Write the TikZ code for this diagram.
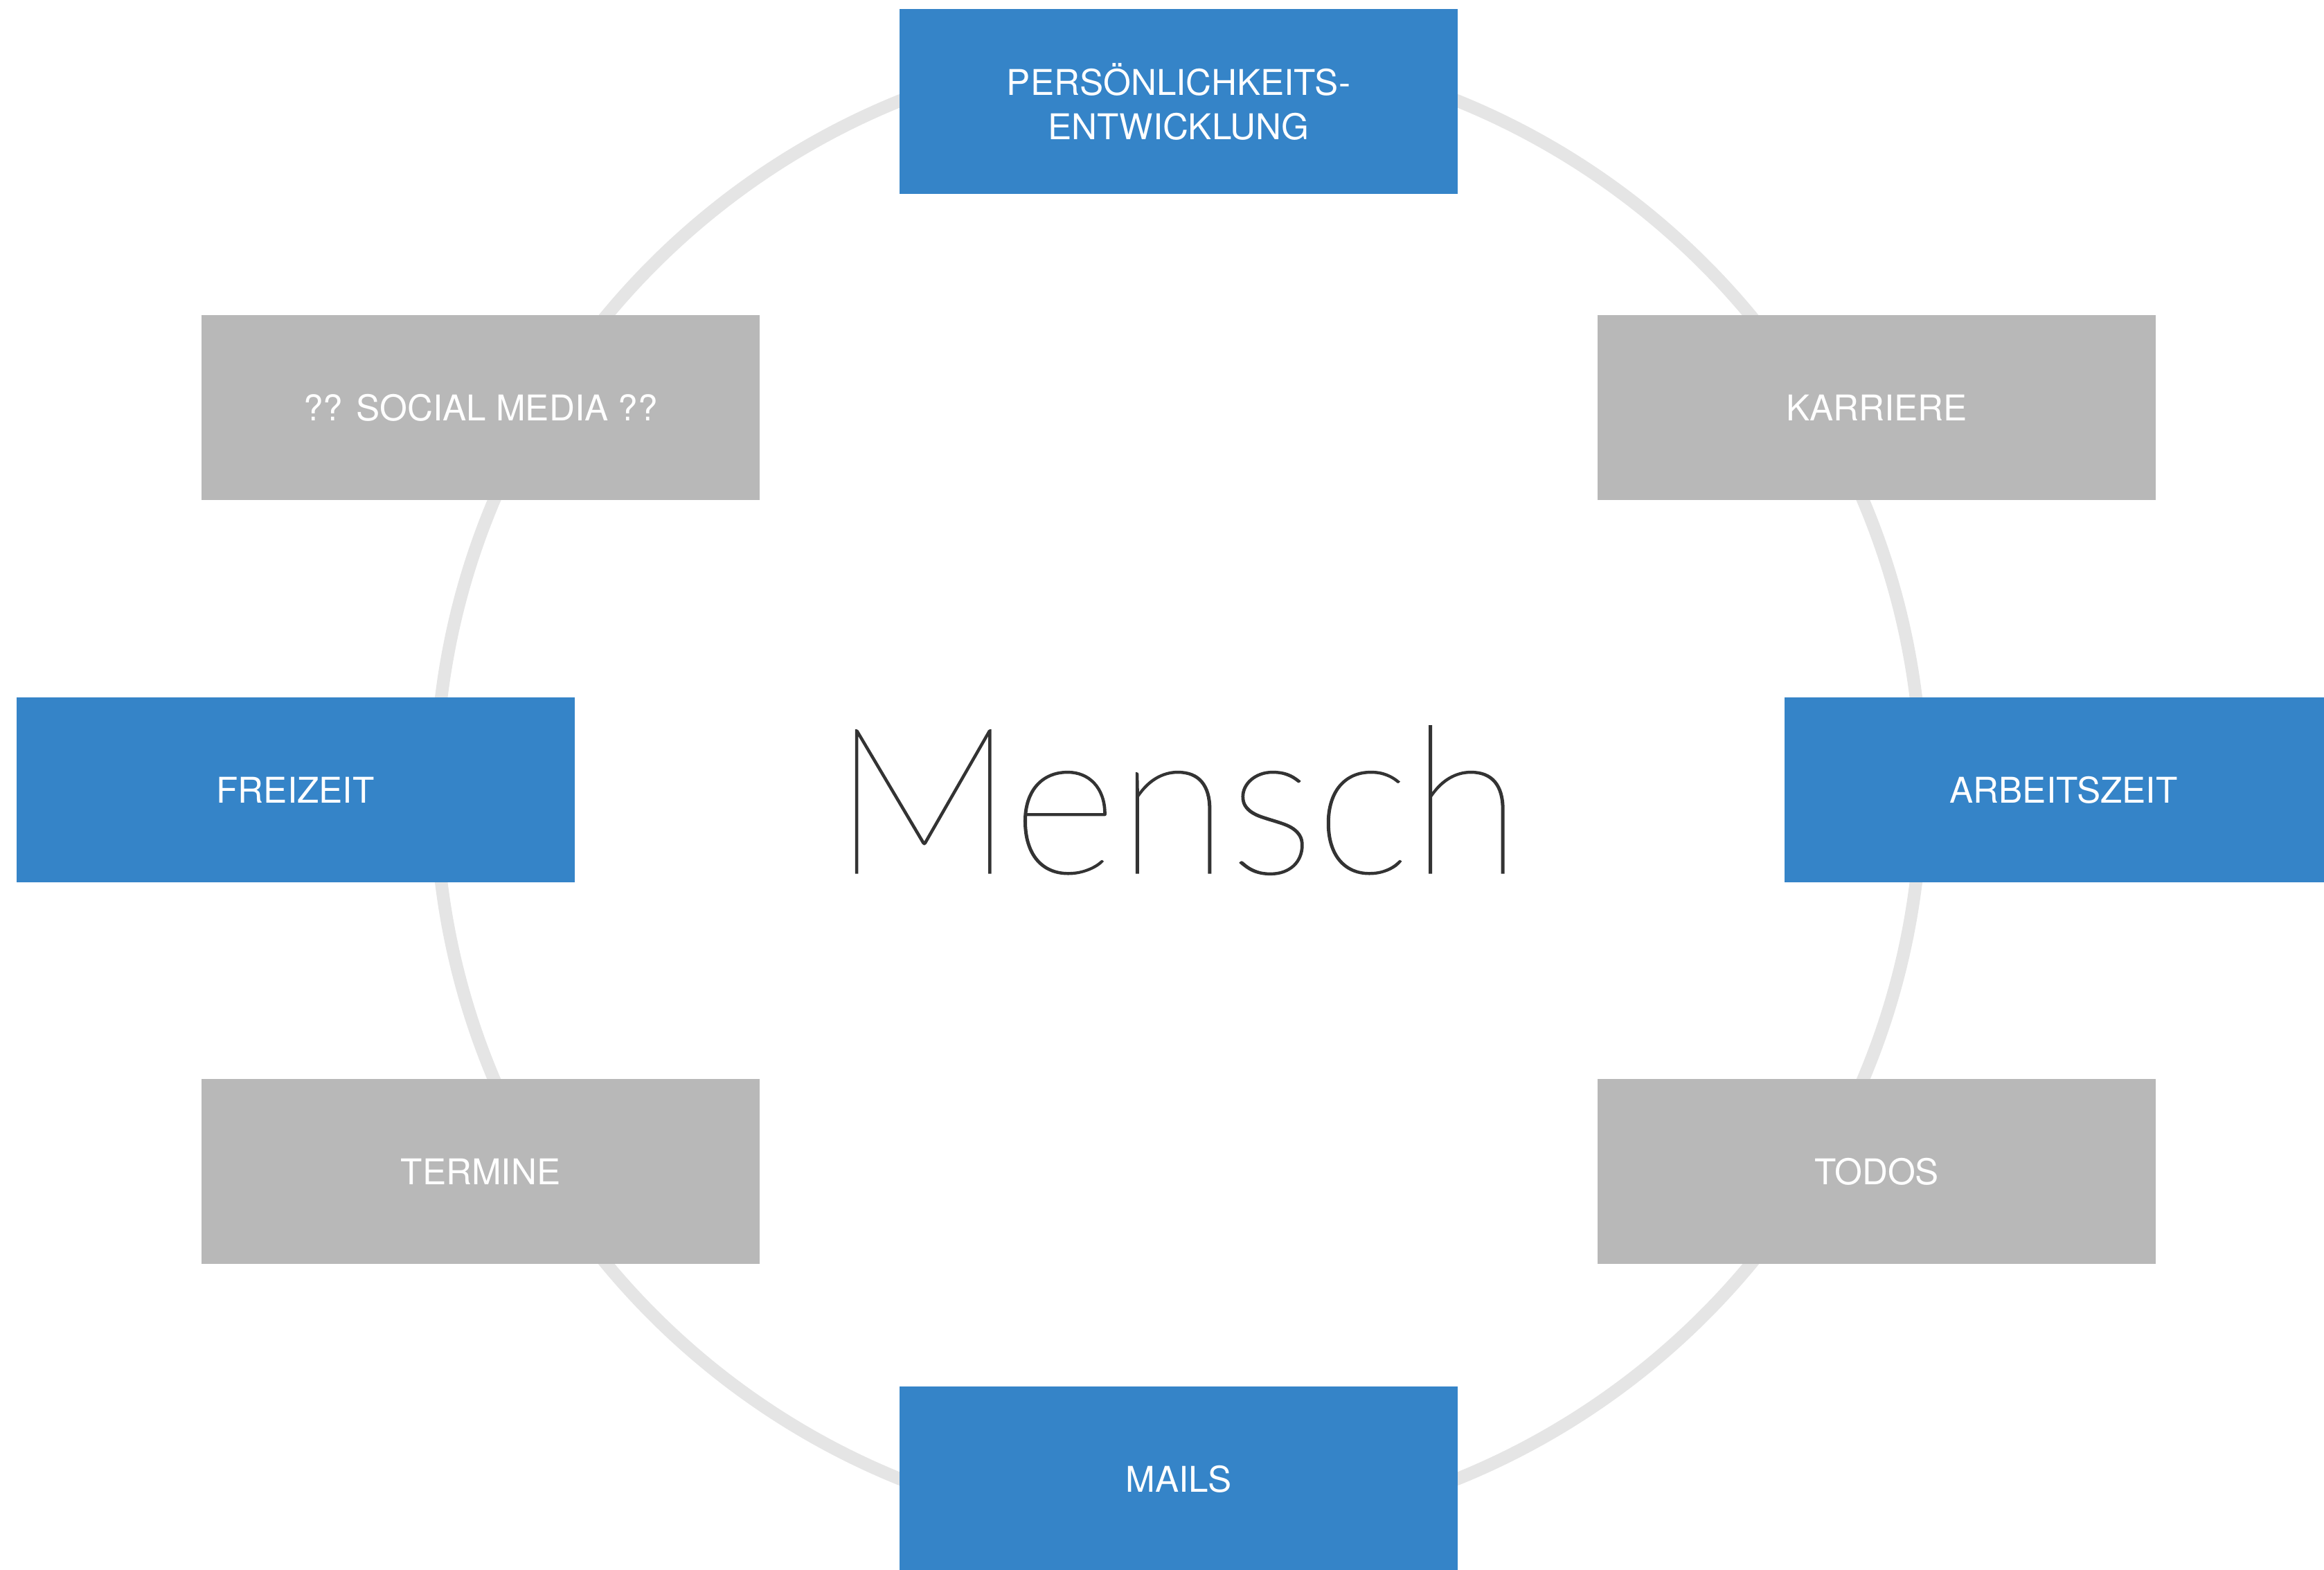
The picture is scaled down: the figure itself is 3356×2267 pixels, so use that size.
\documentclass[tikz,border=0pt]{standalone}
\usepackage{fontspec}
\setmainfont{TeX Gyre Heros}
\IfFontExistsTF{Lato Thin}{\newfontfamily\thinfont[FakeBold=0.5]{Lato Thin}}{%
  \IfFontExistsTF{Lato Hairline}{\newfontfamily\thinfont[FakeBold=0.8]{Lato Hairline}}{%
    \IfFontExistsTF{Lato Light}{\newfontfamily\thinfont{Lato Light}}{\newfontfamily\thinfont{Lato}}}}
\definecolor{boxblue}{HTML}{3584C8}
\definecolor{boxgrey}{HTML}{B8B8B8}
\definecolor{ringgrey}{HTML}{E5E5E5}
\definecolor{maintext}{HTML}{333333}
\tikzset{
  box/.style={rectangle, minimum width=201.5pt, minimum height=66.75pt, inner sep=0pt,
    text=white, font=\fontsize{12.8}{16}\selectfont, align=center},
  bluebox/.style={box, fill=boxblue},
  greybox/.style={box, fill=boxgrey},
  ring/.style={draw=ringgrey, line width=4.6pt},
}
\begin{document}
\begin{tikzpicture}[x=0.25pt, y=-0.25pt]
\useasboundingbox (0,0) rectangle (3356,2267);
\coordinate (c) at (1702,1140.5);
\draw[ring] (c) circle[radius=1073];
\node[bluebox] (pers) at (1702,146.5) {PERSÖNLICHKEITS-\\ENTWICKLUNG};
\node[greybox] (social) at (694,588.5) {\raisebox{-0.6pt}{?? SOCIAL MEDIA ??}};
\node[greybox] (karriere) at (2710,588.5) {\raisebox{-0.6pt}{KARRIERE}};
\node[bluebox] (freizeit) at (426.5,1140.5) {\raisebox{-0.6pt}{FREIZEIT}};
\node[bluebox] (arbeit) at (2980,1140.5) {\raisebox{-0.6pt}{ARBEITSZEIT}};
\node[greybox] (termine) at (694,1691.5) {\raisebox{-0.6pt}{TERMINE}};
\node[greybox] (todos) at (2710,1691.5) {\raisebox{-0.6pt}{TODOS}};
\node[bluebox] (mails) at (1702,2135.5) {MAILS};
\node[anchor=base, inner sep=0pt, text=maintext, font=\thinfont\fontsize{74}{80}\selectfont] (mensch) at (1699,1261) {Mensch};
\end{tikzpicture}
\end{document}
